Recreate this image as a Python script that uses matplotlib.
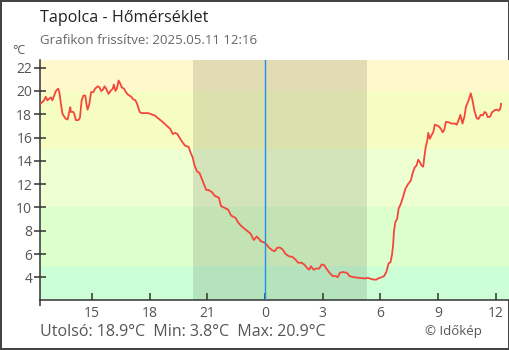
import numpy as np
import matplotlib
matplotlib.use('Agg')
import matplotlib.pyplot as plt

plt.rcParams['font.family'] = ['Open Sans', 'DejaVu Sans']

# hours relative to midnight (negative = previous day)
hours = [-11.67, -11.48, -11.40, -11.31, -11.13, -11.05, -10.96, -10.87, -10.75, -10.69,
         -10.61, -10.52, -10.35, -10.26, -10.17, -10.12, -10.09, -9.96, -9.91, -9.83,
         -9.70, -9.62, -9.53, -9.44, -9.34, -9.27, -9.22, -9.13, -9.04, -8.92,
         -8.83, -8.69, -8.60, -8.52, -8.43, -8.34, -8.26, -8.13, -8.03, -7.91,
         -7.86, -7.77, -7.70, -7.61, -7.53, -7.44, -7.33, -7.25, -7.13, -6.95,
         -6.86, -6.74, -6.65, -6.51, -6.43, -6.08, -5.91, -5.73, -5.59, -5.36,
         -5.10, -4.93, -4.79, -4.67, -4.55, -4.41, -4.29, -4.15, -3.97, -3.88,
         -3.76, -3.66, -3.53, -3.40, -3.27, -3.15, -3.05, -2.93, -2.75, -2.61,
         -2.49, -2.40, -2.28, -2.14, -1.91, -1.76, -1.53, -1.41, -1.23, -1.01,
         -0.75, -0.58, -0.43, -0.31, -0.22, -0.05, 0.09, 0.21, 0.39, 0.51,
         0.65, 0.78, 0.91, 1.08, 1.25, 1.43, 1.60, 1.73, 1.90, 2.04,
         2.22, 2.30, 2.39, 2.53, 2.65, 2.82, 2.95, 3.08, 3.17, 3.35,
         3.52, 3.70, 3.78, 3.90, 4.05, 4.22, 4.31, 4.39, 4.65, 4.91,
         5.18, 5.35, 5.53, 5.65, 5.79, 5.88, 6.05, 6.19, 6.31, 6.43,
         6.53, 6.61, 6.66, 6.71, 6.78, 6.87, 6.95, 7.06, 7.18, 7.30,
         7.44, 7.58, 7.67, 7.79, 7.88, 7.97, 8.05, 8.14, 8.23, 8.28,
         8.36, 8.44, 8.49, 8.57, 8.66, 8.75, 8.83, 9.01, 9.15, 9.24,
         9.32, 9.41, 9.57, 9.71, 9.88, 9.97, 10.09, 10.16, 10.27, 10.37,
         10.45, 10.54, 10.61, 10.70, 10.79, 10.89, 11.01, 11.10, 11.22, 11.33,
         11.42, 11.50, 11.59, 11.71, 11.80, 11.94, 12.06, 12.15, 12.23, 12.28]

temps = [18.9, 19.2, 19.5, 19.2, 19.45, 19.2, 19.6, 20.0, 20.2, 19.9,
         18.9, 18.0, 17.6, 17.55, 18.2, 18.6, 18.2, 18.2, 18.0, 17.5,
         17.5, 17.7, 19.2, 19.6, 19.6, 18.75, 18.4, 18.9, 19.9, 19.9,
         20.2, 20.4, 20.3, 20.0, 20.1, 20.4, 20.2, 19.75, 20.0, 20.2,
         20.55, 20.0, 20.2, 20.9, 20.65, 20.3, 20.2, 19.95, 19.7, 19.5,
         19.3, 19.2, 18.9, 18.2, 18.1, 18.1, 18.0, 17.9, 17.7, 17.4,
         17.0, 16.75, 16.3, 16.4, 16.3, 15.9, 15.6, 15.3, 15.2, 14.75,
         14.3, 13.6, 13.1, 12.95, 12.4, 11.9, 11.5, 11.5, 11.3, 11.0,
         10.9, 10.85, 10.1, 10.0, 9.8, 9.3, 9.1, 8.75, 8.4, 8.1,
         7.75, 7.2, 7.5, 7.3, 7.1, 7.0, 6.8, 6.55, 6.3, 6.25,
         6.55, 6.55, 6.4, 6.0, 5.8, 5.75, 5.5, 5.25, 5.25, 5.1,
         4.75, 4.65, 4.95, 4.65, 4.75, 4.75, 5.1, 5.05, 4.8, 4.4,
         4.1, 4.1, 4.0, 4.4, 4.45, 4.4, 4.3, 4.1, 4.0, 3.95,
         3.9, 3.95, 3.85, 3.8, 3.8, 3.9, 4.0, 4.1, 4.45, 5.2,
         5.3, 6.0, 6.75, 8.0, 8.75, 9.0, 9.9, 10.3, 10.9, 11.6,
         12.0, 12.3, 12.9, 13.45, 13.6, 14.1, 13.9, 13.6, 13.5, 14.25,
         15.2, 15.75, 16.4, 15.9, 16.2, 16.45, 17.1, 17.0, 16.75, 16.45,
         16.65, 17.35, 17.3, 17.2, 17.2, 17.1, 17.6, 17.95, 17.2, 17.8,
         18.65, 19.0, 19.3, 19.8, 19.2, 18.3, 17.65, 17.6, 17.95, 17.9,
         18.2, 18.1, 17.75, 17.8, 18.15, 18.35, 18.4, 18.3, 18.45, 18.9]

# colour bands behind the chart (temperature limits)
band_edges = [-50, 5, 10, 15, 20, 50]
band_colors = ['#ccffd6', '#dcffcc', '#eeffd2', '#f5fdc2', '#fef8cc']

sunset, sunrise = -3.73, 5.32
tick_pos = [-9, -6, -3, 0, 3, 6, 9, 12]
tick_lbl = ['15', '18', '21', '0', '3', '6', '9', '12']
y_ticks = [4, 6, 8, 10, 12, 14, 16, 18, 20, 22]

fig = plt.figure(figsize=(5.1, 3.5), dpi=100)
fig.patch.set_edgecolor('#444444')
fig.patch.set_linewidth(1.5)
ax = fig.add_axes([40.5 / 510, 50 / 350, 469.5 / 510, 240 / 350])

for lo, hi, c in zip(band_edges[:-1], band_edges[1:], band_colors):
    ax.axhspan(lo, hi, color=c, lw=0, zorder=0)
ax.axvspan(sunset, sunrise, color='black', alpha=0.11, lw=0, zorder=1)
ax.axvline(0, color='#1e90f0', lw=1, zorder=4)

ax.plot(hours, temps, color='#f5463c', lw=1.3, zorder=3)

ax.set_xlim(-11.67, 12.74)
ax.set_ylim(2.05, 22.66)
ax.set_xticks(tick_pos)
ax.set_xticklabels(tick_lbl)
ax.set_xticks([-11.67], minor=True)
ax.set_yticks(y_ticks)

for s in ['top', 'right']:
    ax.spines[s].set_visible(False)
for s in ['left', 'bottom']:
    ax.spines[s].set_color('#333333')
    ax.spines[s].set_linewidth(1.1)

ax.tick_params(axis='x', which='major', direction='in', length=5, width=1.1,
               color='#333333', labelcolor='#555555', labelsize=10, pad=4)
ax.tick_params(axis='x', which='minor', direction='out', length=4.5, width=1.1,
               color='#333333')
ax.tick_params(axis='y', direction='inout', length=9, width=1.1,
               color='#333333', labelcolor='#555555', labelsize=10, pad=1.5)

fig.text(40 / 510, 1 - 18 / 350, 'Tapolca - Hőmérséklet', fontsize=11.6,
         color='#222222', va='center', ha='left')
fig.text(40 / 510, 1 - 41 / 350, 'Grafikon frissítve: 2025.05.11 12:16', fontsize=9.5,
         color='#666666', va='center', ha='left')
fig.text(12 / 510, 1 - 51 / 350, '°C', fontsize=9, color='#555555', va='center', ha='left')
fig.text(40 / 510, 1 - 332 / 350, 'Utolsó: 18.9°C  Min: 3.8°C  Max: 20.9°C', fontsize=11.5,
         color='#555555', va='center', ha='left')
fig.text(482 / 510, 1 - 332 / 350, '© Időkép', fontsize=9.5, color='#555555',
         va='center', ha='right')

fig.savefig('out.png', dpi=100)
